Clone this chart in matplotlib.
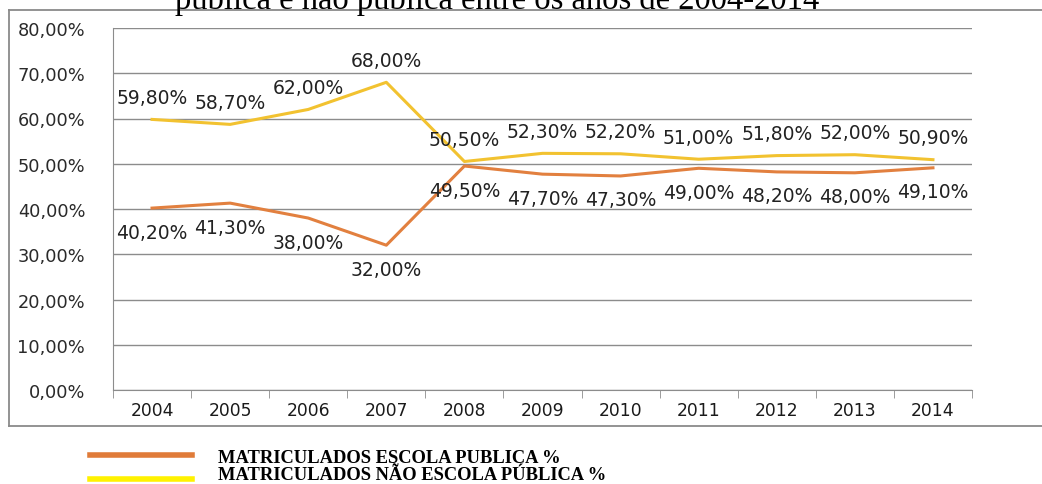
import matplotlib
matplotlib.use("Agg")
import matplotlib.pyplot as plt
from matplotlib.lines import Line2D
from matplotlib.ticker import FuncFormatter

years = ["2004", "2005", "2006", "2007", "2008", "2009", "2010", "2011", "2012", "2013", "2014"]
publica = [40.2, 41.3, 38.0, 32.0, 49.5, 47.7, 47.3, 49.0, 48.2, 48.0, 49.1]
nao_publica = [59.8, 58.7, 62.0, 68.0, 50.5, 52.3, 52.2, 51.0, 51.8, 52.0, 50.9]
publica_labels = ["40,20%", "41,30%", "38,00%", "32,00%", "49,50%", "47,70%", "47,30%", "49,00%", "48,20%", "48,00%", "49,10%"]
nao_labels = ["59,80%", "58,70%", "62,00%", "68,00%", "50,50%", "52,30%", "52,20%", "51,00%", "51,80%", "52,00%", "50,90%"]
yticks = [0, 10, 20, 30, 40, 50, 60, 70, 80]
legend_labels = ["MATRICULADOS ESCOLA PUBLICA %", "MATRICULADOS NÃO ESCOLA PÚBLICA %"]
title = "pública e não pública entre os anos de 2004-2014"

W, H = 1042, 485
fig = plt.figure(figsize=(W / 100, H / 100), dpi=100)
fig.patch.set_facecolor("white")

def fx(px):
    return px / W

def fy(py):
    return 1 - py / H

frame_col = "#8a8a8a"
# outer chart frame (left, top, bottom; right edge runs off the image)
for (x0, y0, x1, y1) in [(9, 11, 9, 427), (9, 11, W, 11), (9, 427, W, 427)]:
    fig.add_artist(Line2D([fx(x0), fx(x1)], [fy(y0), fy(y1)], transform=fig.transFigure,
                          color=frame_col, lw=1.3))

ax = fig.add_axes([fx(113), fy(391), fx(972) - fx(113), fy(29) - fy(391)])
x = list(range(len(years)))
ax.set_xlim(-0.5, len(years) - 0.5)
ax.set_ylim(0, 80)

ax.set_yticks(yticks)
ax.yaxis.set_major_formatter(FuncFormatter(lambda v, p: f"{v:.2f}%".replace(".", ",")))
ax.grid(axis="y", color="#8c8c8c", lw=1.0)
ax.set_axisbelow(True)
for s in ["top", "right"]:
    ax.spines[s].set_visible(False)
ax.spines["left"].set_color("#8c8c8c")
ax.spines["bottom"].set_color("#8c8c8c")
ax.tick_params(axis="y", length=0, pad=20, labelsize=12.8, labelcolor="#2a2a2a")
ax.set_xticks(x)
ax.set_xticklabels(years, fontsize=12.3, color="#1a1a1a")
ax.tick_params(axis="x", length=0, pad=8)
ax.set_xticks([i - 0.5 for i in range(len(years) + 1)], minor=True)
ax.tick_params(axis="x", which="minor", length=6, color="#8c8c8c", direction="out")

orange = "#E2803F"
yellow = "#F2C230"
ax.plot(x, nao_publica, color=yellow, lw=2.2)
ax.plot(x, publica, color=orange, lw=2.2)

for i in x:
    ax.annotate(nao_labels[i], (i, nao_publica[i]), xytext=(0, 22), textcoords="offset pixels",
                ha="center", va="center", fontsize=13.5, color="#222222")
    ax.annotate(publica_labels[i], (i, publica[i]), xytext=(0, -24), textcoords="offset pixels",
                ha="center", va="center", fontsize=13.5, color="#222222")

# partially visible title at the very top (cut off as in the source image)
fig.text(fx(497), fy(9), title, ha="center", va="baseline", fontsize=23.5,
         family="Liberation Serif", color="black")

# legend below frame
fig.add_artist(Line2D([fx(90), fx(192)], [fy(456), fy(456)], transform=fig.transFigure,
                      color="#E07B39", lw=4))
fig.add_artist(Line2D([fx(90), fx(192)], [fy(480), fy(480)], transform=fig.transFigure,
                      color="#FFF200", lw=4))
fig.text(fx(218), fy(459), legend_labels[0], ha="left", va="center", fontsize=13.3,
         family="Liberation Serif", fontweight="bold")
fig.text(fx(218), fy(476), legend_labels[1], ha="left", va="center", fontsize=13.3,
         family="Liberation Serif", fontweight="bold")

fig.savefig("out.png", dpi=100)
